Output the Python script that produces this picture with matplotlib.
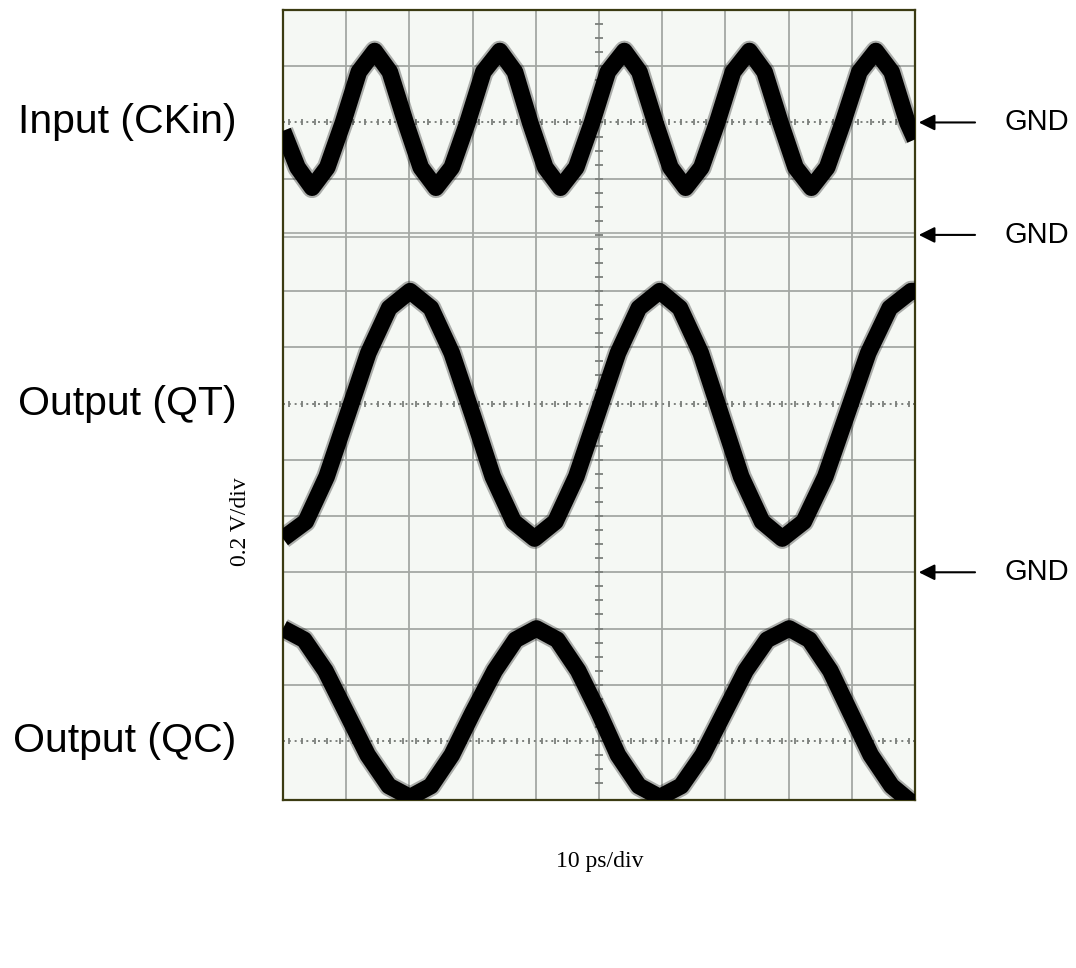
import numpy as np
import matplotlib
matplotlib.use('Agg')
import matplotlib.pyplot as plt

# time in ps (10 ps/div), voltage in V relative to each trace's GND (0.2 V/div)
ckin_t = [0, 2.3, 4.6, 7.0, 9.5, 12.0, 14.5, 16.9, 19.4, 21.8, 24.2, 26.7, 29.2, 31.7,
          34.3, 36.7, 39.1, 41.5, 43.9, 46.4, 48.9, 51.4, 54.0, 56.4, 58.9, 61.3, 63.7,
          66.2, 68.7, 71.2, 73.8, 76.2, 78.7, 81.1, 83.6, 86.1, 88.6, 91.2, 93.8, 96.3,
          98.8, 100]
ckin_v = [-0.03, -0.16, -0.232, -0.16, 0.0, 0.18, 0.254, 0.18, 0.0, -0.16, -0.232, -0.16,
          0.0, 0.18, 0.254, 0.18, 0.0, -0.16, -0.232, -0.16, 0.0, 0.18, 0.254, 0.18, 0.0,
          -0.16, -0.232, -0.16, 0.0, 0.18, 0.254, 0.18, 0.0, -0.16, -0.232, -0.16, 0.0,
          0.18, 0.254, 0.18, 0.0, -0.06]

qt_t = [0, 3.6, 6.9, 10.2, 13.5, 16.8, 20.1, 23.4, 26.7, 30.0, 33.2, 36.5, 39.8,
        43.1, 46.4, 49.7, 53.0, 56.3, 59.6, 62.8, 66.1, 69.3, 72.5, 75.8, 79.0,
        82.4, 85.8, 89.2, 92.6, 96.0, 99.4, 100]
qt_v = [-1.08, -1.02, -0.86, -0.64, -0.42, -0.26, -0.20, -0.26, -0.42, -0.64, -0.86, -1.02,
        -1.08, -1.02, -0.86, -0.64, -0.42, -0.26, -0.20, -0.26, -0.42, -0.64, -0.86, -1.02,
        -1.08, -1.02, -0.86, -0.64, -0.42, -0.26, -0.20, -0.20]

qc_t = [0, 3.35, 6.7, 10.05, 13.4, 16.75, 20.1, 23.4, 26.7, 30.0, 33.5, 36.8, 40.1,
        43.4, 46.7, 50.0, 53.0, 56.3, 59.6, 63.0, 66.4, 69.8, 73.2, 76.6, 80.1,
        83.3, 86.6, 89.8, 93.0, 96.3, 99.5, 100]
qc_v = [-0.20, -0.24, -0.35, -0.50, -0.65, -0.76, -0.80, -0.76, -0.65, -0.50, -0.35, -0.24,
        -0.20, -0.24, -0.35, -0.50, -0.65, -0.76, -0.80, -0.76, -0.65, -0.50, -0.35, -0.24,
        -0.20, -0.24, -0.35, -0.50, -0.65, -0.76, -0.82, -0.82]

labels = ['Input (CKin)', 'Output (QT)', 'Output (QC)']
label_div = [12, 7, 1]          # dotted centre line of each trace
gnd_div = [12, 10, 4]           # GND level of each trace (divisions from bottom)
volts_per_div = 0.2

# figure ---------------------------------------------------------------
fig = plt.figure(figsize=(10.76, 9.68), dpi=100)
ax = fig.add_axes([283 / 1076, 1 - 800 / 968, 632 / 1076, 790 / 968])
ax.set_facecolor('#f5f8f4')
ax.set_xlim(0, 100)
ax.set_ylim(-0.05, 14)
ax.set_xticks([])
ax.set_yticks([])
for sp in ax.spines.values():
    sp.set_color('#3b3b12')
    sp.set_linewidth(1.6)

grid_c = '#a4a8a4'
for x in range(10, 100, 10):
    ax.axvline(x, color=grid_c, lw=1.3, zorder=1)
for y in range(1, 14):
    if y in label_div:
        continue
    if y == 10:
        ax.axhline(10.04, color=grid_c, lw=1.2, zorder=1)
        ax.axhline(9.96, color=grid_c, lw=1.2, zorder=1)
    else:
        ax.axhline(y, color=grid_c, lw=1.3, zorder=1)

# dotted centre lines with minor marks
mx = np.arange(1, 100, 2)
for y in label_div:
    ax.plot([0, 100], [y, y], color='#7c807c', lw=1.4, ls=(0, (1, 2)), zorder=1)
    ax.plot(mx, [y] * len(mx), ls='none', marker='|', ms=5, mew=1.3, color='#7c807c', zorder=1)

# vertical centre line with minor marks
ax.axvline(50, color=grid_c, lw=1.3, zorder=1)
my = np.arange(0.25, 14, 0.25)
ax.plot([50] * len(my), my, ls='none', marker='_', ms=6, mew=1.3, color='#7c807c', zorder=1)

# traces
for t, v, g in zip([ckin_t, qt_t, qc_t], [ckin_v, qt_v, qc_v], gnd_div):
    y = g + np.array(v) / volts_per_div
    ax.plot(t, y, color='black', lw=15, alpha=0.3, solid_joinstyle='round',
            solid_capstyle='butt', zorder=3)
    ax.plot(t, y, color='black', lw=12, solid_joinstyle='round',
            solid_capstyle='butt', zorder=4)

# labels
for lab, d in zip(labels, label_div):
    ax.text(-7.4, d, lab, ha='right', va='center', fontsize=29.5,
            family='Liberation Sans', transform=ax.transData, clip_on=False)

# GND arrows
for g in gnd_div:
    ax.annotate('', xy=(100.6, g), xytext=(109.5, g), annotation_clip=False,
                arrowprops=dict(arrowstyle='-|>', color='black', lw=1.5,
                                mutation_scale=24, shrinkA=0, shrinkB=0))
    ax.text(114.2, g, 'GND', ha='left', va='center', fontsize=21,
            family='Liberation Sans', clip_on=False)

fig.text(240 / 1076, 1 - 522 / 968, '0.2 V/div', rotation=90, ha='center', va='center',
         fontsize=17, family='Liberation Serif')
fig.text(600 / 1076, 1 - 862 / 968, '10 ps/div', ha='center', va='center',
         fontsize=17, family='Liberation Serif')

fig.savefig('out.png', dpi=100)
